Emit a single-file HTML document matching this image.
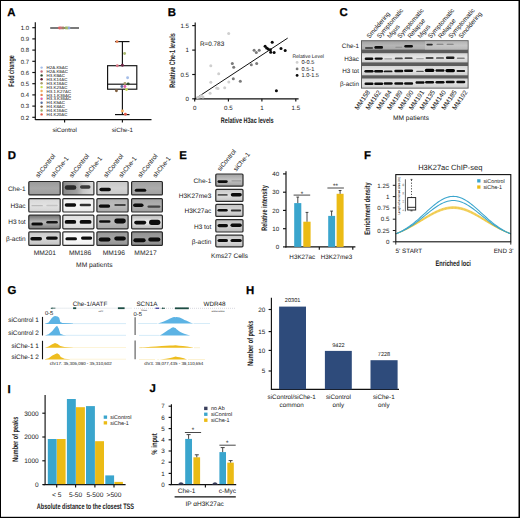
<!DOCTYPE html>
<html><head><meta charset="utf-8">
<style>
html,body{margin:0;padding:0;background:#fff;}
svg{display:block;}
text{text-rendering:geometricPrecision;font-family:"Liberation Sans",sans-serif;fill:#1a1a1a;stroke:#1a1a1a;stroke-width:0.02px;}
.lg text{stroke-width:0.4px;fill:#222;}
.cl{font-weight:bold;stroke-width:0px;fill:#222;}
.pl{font-weight:bold;font-size:11.4px;fill:#000;stroke:#000;stroke-width:0.25px;}
</style></head><body>
<svg width="520" height="518" viewBox="0 0 520 518">
<defs>
<filter id="bl" x="-50%" y="-100%" width="200%" height="300%"><feGaussianBlur stdDeviation="0.7"/></filter>
<filter id="bl2" x="-50%" y="-100%" width="200%" height="300%"><feGaussianBlur stdDeviation="1.1"/></filter>
<!-- BEGIN DEFS d -->
<linearGradient id="gD00" x1="0" y1="0" x2="0" y2="1"><stop offset="0" stop-color="#9a9a9a"/><stop offset="0.5" stop-color="#a8a8a8"/><stop offset="1" stop-color="#9c9c9c"/></linearGradient>
<linearGradient id="gD01" x1="0" y1="0" x2="0" y2="1"><stop offset="0" stop-color="#d8d8d8"/><stop offset="0.5" stop-color="#e2e2e2"/><stop offset="1" stop-color="#d4d4d4"/></linearGradient>
<linearGradient id="gD02" x1="0" y1="0" x2="0" y2="1"><stop offset="0" stop-color="#707070"/><stop offset="0.5" stop-color="#b8b8b8"/><stop offset="1" stop-color="#7a7a7a"/></linearGradient>
<linearGradient id="gD03" x1="0" y1="0" x2="0" y2="1"><stop offset="0" stop-color="#c8c8c8"/><stop offset="0.5" stop-color="#d8d8d8"/><stop offset="1" stop-color="#c4c4c4"/></linearGradient>
<linearGradient id="gD10" x1="0" y1="0" x2="0" y2="1"><stop offset="0" stop-color="#6a6a6a"/><stop offset="0.5" stop-color="#8a8a8a"/><stop offset="1" stop-color="#b0b0b0"/></linearGradient>
<linearGradient id="gD11" x1="0" y1="0" x2="0" y2="1"><stop offset="0" stop-color="#eeeeee"/><stop offset="0.5" stop-color="#f6f6f6"/><stop offset="1" stop-color="#eaeaea"/></linearGradient>
<linearGradient id="gD12" x1="0" y1="0" x2="0" y2="1"><stop offset="0" stop-color="#dcdcdc"/><stop offset="0.5" stop-color="#ececec"/><stop offset="1" stop-color="#d8d8d8"/></linearGradient>
<linearGradient id="gD13" x1="0" y1="0" x2="0" y2="1"><stop offset="0" stop-color="#f4f4f4"/><stop offset="0.5" stop-color="#fafafa"/><stop offset="1" stop-color="#f0f0f0"/></linearGradient>
<linearGradient id="gD20" x1="0" y1="0" x2="0" y2="1"><stop offset="0" stop-color="#c8c8c8"/><stop offset="0.5" stop-color="#d4d4d4"/><stop offset="1" stop-color="#c8c8c8"/></linearGradient>
<linearGradient id="gD21" x1="0" y1="0" x2="0" y2="1"><stop offset="0" stop-color="#b0b0b0"/><stop offset="0.5" stop-color="#bcbcbc"/><stop offset="1" stop-color="#acacac"/></linearGradient>
<linearGradient id="gD22" x1="0" y1="0" x2="0" y2="1"><stop offset="0" stop-color="#aaaaaa"/><stop offset="0.5" stop-color="#b8b8b8"/><stop offset="1" stop-color="#a8a8a8"/></linearGradient>
<linearGradient id="gD23" x1="0" y1="0" x2="0" y2="1"><stop offset="0" stop-color="#989898"/><stop offset="0.5" stop-color="#a4a4a4"/><stop offset="1" stop-color="#949494"/></linearGradient>
<linearGradient id="gD30" x1="0" y1="0" x2="0" y2="1"><stop offset="0" stop-color="#a0a0a0"/><stop offset="0.5" stop-color="#acacac"/><stop offset="1" stop-color="#a0a0a0"/></linearGradient>
<linearGradient id="gD31" x1="0" y1="0" x2="0" y2="1"><stop offset="0" stop-color="#a4a4a4"/><stop offset="0.5" stop-color="#b0b0b0"/><stop offset="1" stop-color="#a0a0a0"/></linearGradient>
<linearGradient id="gD32" x1="0" y1="0" x2="0" y2="1"><stop offset="0" stop-color="#b8b8b8"/><stop offset="0.5" stop-color="#eeeeee"/><stop offset="1" stop-color="#b4b4b4"/></linearGradient>
<linearGradient id="gD33" x1="0" y1="0" x2="0" y2="1"><stop offset="0" stop-color="#909090"/><stop offset="0.5" stop-color="#a0a0a0"/><stop offset="1" stop-color="#8c8c8c"/></linearGradient>
<linearGradient id="gD10h" x1="0" y1="0" x2="1" y2="0"><stop offset="0" stop-color="#8a8a8a"/><stop offset="0.45" stop-color="#a0a0a0"/><stop offset="0.65" stop-color="#c4c4c4"/><stop offset="1" stop-color="#dcdcdc"/></linearGradient>
<!-- END DEFS d -->
<!-- BEGIN DEFS e -->
<linearGradient id="gE0" x1="0" y1="0" x2="0" y2="1"><stop offset="0" stop-color="#a0a0a0"/><stop offset="0.5" stop-color="#c4c4c4"/><stop offset="1" stop-color="#a0a0a0"/></linearGradient>
<linearGradient id="gE1" x1="0" y1="0" x2="0" y2="1"><stop offset="0" stop-color="#c8c8c8"/><stop offset="0.5" stop-color="#dedede"/><stop offset="1" stop-color="#c4c4c4"/></linearGradient>
<linearGradient id="gE2" x1="0" y1="0" x2="0" y2="1"><stop offset="0" stop-color="#c4c4c4"/><stop offset="0.5" stop-color="#dadada"/><stop offset="1" stop-color="#c0c0c0"/></linearGradient>
<linearGradient id="gE3" x1="0" y1="0" x2="0" y2="1"><stop offset="0" stop-color="#bcbcbc"/><stop offset="0.5" stop-color="#d4d4d4"/><stop offset="1" stop-color="#b8b8b8"/></linearGradient>
<linearGradient id="gE4" x1="0" y1="0" x2="0" y2="1"><stop offset="0" stop-color="#c4c4c4"/><stop offset="0.5" stop-color="#dcdcdc"/><stop offset="1" stop-color="#c0c0c0"/></linearGradient>
<!-- END DEFS e -->
<!-- BEGIN DEFS c -->
<linearGradient id="gC1" x1="0" y1="0" x2="0" y2="1"><stop offset="0" stop-color="#a2a2a2"/><stop offset="0.5" stop-color="#b6b6b6"/><stop offset="1" stop-color="#aaaaaa"/></linearGradient>
<linearGradient id="gC1r" x1="0" y1="0" x2="0" y2="1"><stop offset="0" stop-color="#b8b8b8"/><stop offset="0.5" stop-color="#cacaca"/><stop offset="1" stop-color="#bcbcbc"/></linearGradient>
<linearGradient id="gC2" x1="0" y1="0" x2="0" y2="1"><stop offset="0" stop-color="#d4d4d4"/><stop offset="0.45" stop-color="#e6e6e6"/><stop offset="1" stop-color="#cdcdcd"/></linearGradient>
<!-- END DEFS c -->
</defs>
<rect x="0" y="0" width="520" height="518" fill="#fff"/>

<!-- ============ PANEL A ============ -->
<g id="A">
<text class="pl" x="7.3" y="16.1">A</text>
<g stroke="#111" stroke-width="1.15" fill="none">
<line x1="35.3" y1="22.2" x2="35.3" y2="120"/>
<line x1="35.3" y1="119.6" x2="151.5" y2="119.6"/>
<line x1="32.3" y1="27.7" x2="35.3" y2="27.7"/>
<line x1="32.3" y1="38.9" x2="35.3" y2="38.9"/>
<line x1="32.3" y1="50.1" x2="35.3" y2="50.1"/>
<line x1="32.3" y1="61.3" x2="35.3" y2="61.3"/>
<line x1="32.3" y1="72.5" x2="35.3" y2="72.5"/>
<line x1="32.3" y1="83.7" x2="35.3" y2="83.7"/>
<line x1="32.3" y1="94.9" x2="35.3" y2="94.9"/>
<line x1="32.3" y1="106.1" x2="35.3" y2="106.1"/>
<line x1="32.3" y1="117.3" x2="35.3" y2="117.3"/>
<line x1="64.6" y1="119.6" x2="64.6" y2="122.5"/>
<line x1="122.4" y1="119.6" x2="122.4" y2="122.5"/>
</g>
<g font-size="6" text-anchor="end" fill="#222">
<text x="29" y="29.9">1.0</text>
<text x="29" y="41.1">0.9</text>
<text x="29" y="52.3">0.8</text>
<text x="29" y="63.5">0.7</text>
<text x="29" y="74.7">0.6</text>
<text x="29" y="85.9">0.5</text>
<text x="29" y="97.1">0.4</text>
<text x="29" y="108.3">0.3</text>
<text x="29" y="119.5">0.2</text>
</g>
<text class="cl" transform="translate(13.5,71) rotate(-90) scale(0.671,1)" font-size="8.0" text-anchor="middle">Fold change</text>
<g font-size="6.2" text-anchor="middle">
<text x="64.6" y="131.5">siControl</text>
<text x="122.4" y="131.5">siChe-1</text>
</g>
<!-- siControl line -->
<line x1="50.2" y1="28" x2="79" y2="28" stroke="#222" stroke-width="1.2"/>
<g>
<circle cx="59.5" cy="28" r="1.45" fill="#e06060"/>
<circle cx="61" cy="28" r="1.4" fill="#c8707c"/>
<circle cx="63" cy="28" r="1.4" fill="#a08060"/>
<circle cx="66" cy="28" r="1.4" fill="#98b068"/>
<circle cx="67.5" cy="28" r="1.4" fill="#a8c060"/>
<circle cx="69" cy="28" r="1.4" fill="#90a8d8"/>
</g>
<!-- siChe-1 boxplot -->
<g stroke="#111" stroke-width="1.15" fill="none">
<line x1="115" y1="41.6" x2="129.5" y2="41.6"/>
<line x1="122.4" y1="41.6" x2="122.4" y2="65.7"/>
<rect x="107.6" y="65.7" width="29.2" height="23.5"/>
<line x1="107.6" y1="84.2" x2="136.8" y2="84.2"/>
<line x1="122.4" y1="89.2" x2="122.4" y2="114.6"/>
<line x1="115" y1="114.6" x2="129.5" y2="114.6"/>
</g>
<g>
<circle cx="117" cy="41.6" r="1.45" fill="#e88050"/>
<circle cx="124.6" cy="53.5" r="1.45" fill="#a8b870"/>
<circle cx="117.3" cy="65.7" r="1.45" fill="#d87888"/>
<circle cx="122.4" cy="65.3" r="1.45" fill="#6a2040"/>
<circle cx="127.6" cy="77.7" r="1.45" fill="#a4bde8"/>
<circle cx="124.9" cy="83.5" r="1.45" fill="#a8a070"/>
<circle cx="128.2" cy="83.9" r="1.45" fill="#2d4a2d"/>
<circle cx="121.9" cy="86.5" r="1.45" fill="#5870a0"/>
<circle cx="124.9" cy="86.5" r="1.45" fill="#e060a8"/>
<circle cx="126.5" cy="89.6" r="1.45" fill="#c8dc50"/>
<circle cx="116.4" cy="90.7" r="1.45" fill="#806040"/>
<circle cx="122.4" cy="111" r="1.45" fill="#f0b060"/>
<circle cx="125.4" cy="114.3" r="1.45" fill="#e05848"/>
</g>
<!-- legend -->
<g class="lg">
<circle cx="41.6" cy="67.6" r="1.2" fill="#a4bde8"/>
<circle cx="41.6" cy="71.5" r="1.2" fill="#c8707c"/>
<circle cx="41.6" cy="75.4" r="1.2" fill="#2d4a2d"/>
<circle cx="41.6" cy="79.3" r="1.2" fill="#5a1830"/>
<circle cx="41.6" cy="83.2" r="1.2" fill="#a8a070"/>
<circle cx="41.6" cy="87.1" r="1.2" fill="#c8dc50"/>
<circle cx="41.6" cy="91.0" r="1.2" fill="#f0b060"/>
<circle cx="41.6" cy="94.9" r="1.2" fill="#e88050"/>
<circle cx="41.6" cy="98.8" r="1.2" fill="#e060a8"/>
<circle cx="41.6" cy="102.7" r="1.2" fill="#5870a0"/>
<circle cx="41.6" cy="106.6" r="1.2" fill="#806040"/>
<circle cx="41.6" cy="110.5" r="1.2" fill="#98b068"/>
<circle cx="41.6" cy="114.4" r="1.2" fill="#e05848"/>
<g transform="scale(0.1)" font-size="44">
<text x="466" y="692">H2A.K5AC</text>
<text x="466" y="731">H2A.K9AC</text>
<text x="466" y="770">H3.K9AC</text>
<text x="466" y="809">H3.K14AC</text>
<text x="466" y="848">H3.K18AC</text>
<text x="466" y="887">H3.K23AC</text>
<text x="466" y="926">H3.1.K27AC</text>
<text x="466" y="965">H3.1.K36AC</text>
<text x="466" y="1004">H3.3.K36AC</text>
<text x="466" y="1043">H4.K5AC</text>
<text x="466" y="1082">H4.K8AC</text>
<text x="466" y="1121">H4.K16AC</text>
<text x="466" y="1160">H4.K20AC</text>
</g>
</g>
</g>

<!-- ============ PANEL B ============ -->
<g id="B">
<text class="pl" x="167.8" y="16">B</text>
<g stroke="#111" stroke-width="1.15" fill="none">
<line x1="195.2" y1="22.5" x2="195.2" y2="99.3"/>
<line x1="194.7" y1="98.8" x2="298.6" y2="98.8"/>
<line x1="192.2" y1="25.6" x2="195.2" y2="25.6"/>
<line x1="192.2" y1="50.1" x2="195.2" y2="50.1"/>
<line x1="192.2" y1="74.5" x2="195.2" y2="74.5"/>
<line x1="192.2" y1="98.8" x2="195.2" y2="98.8"/>
<line x1="194.7" y1="98.8" x2="194.7" y2="101.6"/>
<line x1="228.4" y1="98.8" x2="228.4" y2="101.6"/>
<line x1="261.9" y1="98.8" x2="261.9" y2="101.6"/>
<line x1="295.8" y1="98.8" x2="295.8" y2="101.6"/>
</g>
<g font-size="6.2" text-anchor="end" fill="#222">
<text x="189" y="27.8">1.5</text>
<text x="189" y="52.3">1</text>
<text x="189" y="76.7">0.5</text>
<text x="189" y="101">0</text>
</g>
<g font-size="6.2" text-anchor="middle" fill="#222">
<text x="194.7" y="110.2">0</text>
<text x="228.4" y="110.2">0.5</text>
<text x="261.9" y="110.2">1</text>
<text x="295.8" y="110.2">1.5</text>
</g>
<text x="199.9" y="46" font-size="6.4" fill="#333">R=0.783</text>
<text class="cl" transform="translate(247.2,123) scale(0.689,1)" font-size="8.0" text-anchor="middle">Relative H3ac levels</text>
<text class="cl" transform="translate(174.5,60.5) rotate(-90) scale(0.687,1)" font-size="8.0" text-anchor="middle">Relative Che-1 levels</text>
<line x1="195.2" y1="98.8" x2="287.7" y2="38.1" stroke="#111" stroke-width="1"/>
<g fill="#cfcfcf">
<circle cx="228.7" cy="33.6" r="1.5"/><circle cx="210.8" cy="65.8" r="1.5"/><circle cx="218.7" cy="73.8" r="1.5"/>
<circle cx="210.8" cy="82.2" r="1.5"/><circle cx="216.6" cy="88" r="1.5"/><circle cx="218" cy="88.4" r="1.5"/>
<circle cx="224.7" cy="87.7" r="1.5"/><circle cx="228.8" cy="81.9" r="1.5"/><circle cx="210.1" cy="93.3" r="1.5"/>
<circle cx="201.3" cy="95.8" r="1.5"/><circle cx="199.5" cy="96.9" r="1.5"/><circle cx="203" cy="96.9" r="1.5"/><circle cx="197.5" cy="97.5" r="1.5"/>
</g>
<g fill="#7a7a7a">
<circle cx="232.3" cy="63.4" r="1.5"/><circle cx="233.7" cy="67.2" r="1.5"/><circle cx="233.3" cy="78.7" r="1.5"/>
<circle cx="240.3" cy="81.3" r="1.5"/><circle cx="254.1" cy="50.3" r="1.5"/><circle cx="256.3" cy="52.6" r="1.5"/>
<circle cx="259.2" cy="50.3" r="1.5"/><circle cx="251.3" cy="64.7" r="1.5"/><circle cx="256.7" cy="63.6" r="1.5"/>
</g>
<g fill="#0a0a0a">
<circle cx="272.2" cy="42.3" r="1.5"/><circle cx="265.1" cy="46.3" r="1.5"/><circle cx="266.6" cy="47.9" r="1.5"/>
<circle cx="268.2" cy="49" r="1.5"/><circle cx="270.4" cy="49.8" r="1.5"/><circle cx="270.7" cy="52.3" r="1.5"/>
<circle cx="274.1" cy="52.6" r="1.5"/><circle cx="281" cy="48.6" r="1.5"/><circle cx="285.2" cy="50.4" r="1.5"/>
<circle cx="276.4" cy="90.8" r="1.5"/>
</g>
<text x="292.4" y="58.3" font-size="5" fill="#555">Relative Level</text>
<circle cx="297.1" cy="62.4" r="1.4" fill="#cfcfcf"/>
<circle cx="297.1" cy="68.9" r="1.4" fill="#7a7a7a"/>
<circle cx="297.1" cy="75.4" r="1.4" fill="#0a0a0a"/>
<g font-size="5.6" fill="#333">
<text x="301.5" y="64.4">0-0.5</text>
<text x="301.5" y="70.9">0.5-1</text>
<text x="301.5" y="77.4">1.0-1.5</text>
</g>
</g>

<!-- BEGIN d -->
<g id="D">
<text class="pl" x="7.8" y="158.8">D</text>
<rect x="28.8" y="181.5" width="31.4" height="13.4" rx="1" fill="url(#gD00)" stroke="#2a2a2a" stroke-width="1.2"/>
<rect x="28.8" y="198.6" width="31.4" height="13.4" rx="1" fill="url(#gD01)" stroke="#2a2a2a" stroke-width="1.2"/>
<rect x="28.8" y="215.2" width="31.4" height="13.6" rx="1" fill="url(#gD02)" stroke="#2a2a2a" stroke-width="1.2"/>
<rect x="28.8" y="231.79999999999998" width="31.4" height="13.6" rx="1" fill="url(#gD03)" stroke="#2a2a2a" stroke-width="1.2"/>
<rect x="62.800000000000004" y="181.5" width="31.1" height="13.4" rx="1" fill="url(#gD10h)" stroke="#2a2a2a" stroke-width="1.2"/>
<rect x="62.800000000000004" y="198.6" width="31.1" height="13.4" rx="1" fill="url(#gD11)" stroke="#2a2a2a" stroke-width="1.2"/>
<rect x="62.800000000000004" y="215.2" width="31.1" height="13.6" rx="1" fill="url(#gD12)" stroke="#2a2a2a" stroke-width="1.2"/>
<rect x="62.800000000000004" y="231.79999999999998" width="31.1" height="13.6" rx="1" fill="url(#gD13)" stroke="#2a2a2a" stroke-width="1.2"/>
<rect x="96.89999999999999" y="181.5" width="31.2" height="13.4" rx="1" fill="url(#gD20)" stroke="#2a2a2a" stroke-width="1.2"/>
<rect x="96.89999999999999" y="198.6" width="31.2" height="13.4" rx="1" fill="url(#gD21)" stroke="#2a2a2a" stroke-width="1.2"/>
<rect x="96.89999999999999" y="215.2" width="31.2" height="13.6" rx="1" fill="url(#gD22)" stroke="#2a2a2a" stroke-width="1.2"/>
<rect x="96.89999999999999" y="231.79999999999998" width="31.2" height="13.6" rx="1" fill="url(#gD23)" stroke="#2a2a2a" stroke-width="1.2"/>
<rect x="131.6" y="181.5" width="30.8" height="13.4" rx="1" fill="url(#gD30)" stroke="#2a2a2a" stroke-width="1.2"/>
<rect x="131.6" y="198.6" width="30.8" height="13.4" rx="1" fill="url(#gD31)" stroke="#2a2a2a" stroke-width="1.2"/>
<rect x="131.6" y="215.2" width="30.8" height="13.6" rx="1" fill="url(#gD32)" stroke="#2a2a2a" stroke-width="1.2"/>
<rect x="131.6" y="231.79999999999998" width="30.8" height="13.6" rx="1" fill="url(#gD33)" stroke="#2a2a2a" stroke-width="1.2"/>
<g filter="url(#bl)">
<rect x="31.4" y="205.05" width="11.5" height="1.30" rx="0.65" fill="#bbb"/>
<rect x="46.3" y="204.85" width="11.5" height="1.30" rx="0.65" fill="#c4c4c4"/>
<rect x="31.4" y="222.44" width="11.5" height="3.12" rx="1.56" fill="#111"/>
<rect x="46.3" y="220.90" width="11.5" height="2.60" rx="1.3" fill="#151515"/>
<rect x="30.3" y="237.11" width="11.7" height="3.38" rx="1.6900000000000002" fill="#111"/>
<rect x="46" y="236.41" width="11.8" height="3.38" rx="1.6900000000000002" fill="#111"/>
<rect x="64.8" y="185.29" width="11.5" height="4.42" rx="2.21" fill="#2a2a2a"/>
<rect x="80" y="185.31" width="10.5" height="3.38" rx="1.6900000000000002" fill="#3a3a3a"/>
<rect x="64.7" y="203.18" width="11.5" height="3.64" rx="1.8199999999999998" fill="#0a0a0a"/>
<rect x="79.6" y="203.70" width="11.4" height="2.60" rx="1.3" fill="#333"/>
<rect x="64.7" y="219.95" width="11.5" height="3.90" rx="1.9500000000000002" fill="#0a0a0a"/>
<rect x="79.6" y="219.95" width="11.9" height="3.90" rx="1.9500000000000002" fill="#0a0a0a"/>
<rect x="65.4" y="237.24" width="11.6" height="3.12" rx="1.56" fill="#111"/>
<rect x="81" y="236.54" width="11.2" height="3.12" rx="1.56" fill="#111"/>
<rect x="99.4" y="187.68" width="11.5" height="3.64" rx="1.8199999999999998" fill="#0a0a0a"/>
<rect x="98.7" y="204.41" width="11.5" height="3.38" rx="1.6900000000000002" fill="#0a0a0a"/>
<rect x="114.3" y="203.96" width="11.5" height="2.08" rx="1.04" fill="#444"/>
<rect x="99.1" y="220.20" width="11.4" height="2.60" rx="1.3" fill="#111"/>
<rect x="114.3" y="218.53" width="11.5" height="4.94" rx="2.4699999999999998" fill="#0a0a0a"/>
<rect x="98.7" y="237.42" width="11.8" height="4.16" rx="2.08" fill="#0a0a0a"/>
<rect x="114.3" y="236.42" width="11.5" height="4.16" rx="2.08" fill="#0a0a0a"/>
<rect x="134.8" y="188.64" width="11.4" height="3.12" rx="1.56" fill="#0a0a0a"/>
<rect x="133.1" y="203.48" width="10.4" height="3.64" rx="1.8199999999999998" fill="#0a0a0a"/>
<rect x="147.5" y="205.43" width="12.9" height="2.34" rx="1.1700000000000002" fill="#444"/>
<rect x="134.2" y="220.78" width="12.0" height="3.64" rx="1.8199999999999998" fill="#0a0a0a"/>
<rect x="149" y="219.70" width="11.4" height="5.20" rx="2.6" fill="#0a0a0a"/>
<rect x="133.4" y="238.25" width="12.2" height="3.90" rx="1.9500000000000002" fill="#0a0a0a"/>
<rect x="148.3" y="237.55" width="12.1" height="3.90" rx="1.9500000000000002" fill="#0a0a0a"/>
</g>
<g font-size="6.5" text-anchor="end">
<text x="25.6" y="190.5">Che-1</text>
<text x="25.6" y="207.6">H3ac</text>
<text x="25.6" y="224.3">H3 tot</text>
<text x="25.6" y="240.9">β-actin</text>
</g>
<g font-size="6.5">
<text transform="translate(38.4,178) rotate(-52)">shControl</text>
<text transform="translate(53.8,178) rotate(-52)">shChe-1</text>
<text transform="translate(72.2,178) rotate(-52)">shControl</text>
<text transform="translate(87.3,178) rotate(-52)">shChe-1</text>
<text transform="translate(106.4,178) rotate(-52)">shControl</text>
<text transform="translate(121.8,178) rotate(-52)">shChe-1</text>
<text transform="translate(140.8,178) rotate(-52)">shControl</text>
<text transform="translate(155.8,178) rotate(-52)">shChe-1</text>
</g>
<g font-size="6.7" text-anchor="middle">
<text x="44.8" y="255.2">MM201</text>
<text x="80.1" y="255.2">MM186</text>
<text x="113.8" y="255.2">MM196</text>
<text x="145.5" y="255.2">MM217</text>
</g>
<text x="94.3" y="267" font-size="6.7" text-anchor="middle">MM patients</text>
</g>
<!-- END d -->
<!-- BEGIN e -->
<g id="E">
<text class="pl" x="179.3" y="159">E</text>
<rect x="215.79999999999998" y="174.0" width="27.2" height="12.2" rx="1" fill="url(#gE0)" stroke="#2a2a2a" stroke-width="1.2"/>
<rect x="215.79999999999998" y="189.4" width="27.2" height="12.0" rx="1" fill="url(#gE1)" stroke="#2a2a2a" stroke-width="1.2"/>
<rect x="215.79999999999998" y="204.4" width="27.2" height="12.0" rx="1" fill="url(#gE2)" stroke="#2a2a2a" stroke-width="1.2"/>
<rect x="215.79999999999998" y="219.6" width="27.2" height="12.4" rx="1" fill="url(#gE3)" stroke="#2a2a2a" stroke-width="1.2"/>
<rect x="215.79999999999998" y="235.2" width="27.2" height="11.6" rx="1" fill="url(#gE4)" stroke="#2a2a2a" stroke-width="1.2"/>
<g filter="url(#bl)">
<rect x="217.5" y="180.30" width="10.2" height="2.60" rx="1.3" fill="#0a0a0a"/>
<rect x="231.4" y="180.20" width="10.1" height="1.20" rx="0.6" fill="#999"/>
<rect x="217.5" y="194.00" width="10.2" height="1.80" rx="0.9" fill="#555"/>
<rect x="230.8" y="193.00" width="11.0" height="3.40" rx="1.7" fill="#0a0a0a"/>
<rect x="217.5" y="209.00" width="10.2" height="2.60" rx="1.3" fill="#0a0a0a"/>
<rect x="230.8" y="209.50" width="10.4" height="2.00" rx="1.0" fill="#333"/>
<rect x="217.5" y="224.00" width="10.5" height="3.20" rx="1.6" fill="#0a0a0a"/>
<rect x="230.5" y="223.60" width="11.3" height="3.40" rx="1.7" fill="#0a0a0a"/>
<rect x="217.5" y="238.90" width="10.5" height="3.20" rx="1.6" fill="#0a0a0a"/>
<rect x="230.5" y="238.90" width="11.3" height="3.20" rx="1.6" fill="#0a0a0a"/>
</g>
<g font-size="6.5" text-anchor="end">
<text x="211.3" y="183.1">Che-1</text>
<text x="211.3" y="198.4">H3K27me3</text>
<text x="211.3" y="213.4">H3K27ac</text>
<text x="211.3" y="228.8">H3 tot</text>
<text x="211.3" y="244.0">β-actin</text>
</g>
<g font-size="6.5">
<text transform="translate(220.2,171.5) rotate(-51)">siControl</text>
<text transform="translate(236.2,171.8) rotate(-51)">siChe-1</text>
</g>
<text x="229.6" y="257.6" font-size="6.6" text-anchor="middle">Kms27 Cells</text>
<g stroke="#111" stroke-width="1.15" fill="none">
<line x1="286" y1="171.2" x2="286" y2="247.4"/>
<line x1="285.5" y1="246.9" x2="355.4" y2="246.9"/>
<line x1="283" y1="246.9" x2="286" y2="246.9"/>
<line x1="283" y1="228.7" x2="286" y2="228.7"/>
<line x1="283" y1="210.4" x2="286" y2="210.4"/>
<line x1="283" y1="192.2" x2="286" y2="192.2"/>
<line x1="283" y1="173.9" x2="286" y2="173.9"/>
<line x1="319.3" y1="246.9" x2="319.3" y2="249.8"/>
<line x1="352.8" y1="246.9" x2="352.8" y2="249.8"/>
</g>
<g font-size="6.2" text-anchor="end">
<text x="279.2" y="249.1">0</text>
<text x="279.2" y="230.8">10</text>
<text x="279.2" y="212.6">20</text>
<text x="279.2" y="194.3">30</text>
<text x="279.2" y="176.1">40</text>
</g>
<rect x="294.2" y="203.1" width="7.1" height="43.8" fill="#3aa5cd"/>
<line x1="297.8" y1="203.1" x2="297.8" y2="197.1" stroke="#333" stroke-width="0.9"/>
<line x1="296.4" y1="197.1" x2="299.1" y2="197.1" stroke="#333" stroke-width="0.9"/>
<rect x="303.3" y="221.7" width="7.3" height="25.2" fill="#ebbb15"/>
<line x1="307.0" y1="221.7" x2="307.0" y2="212.4" stroke="#333" stroke-width="0.9"/>
<line x1="305.6" y1="212.4" x2="308.4" y2="212.4" stroke="#333" stroke-width="0.9"/>
<rect x="328.2" y="215.9" width="6.9" height="31.0" fill="#3aa5cd"/>
<line x1="331.6" y1="215.9" x2="331.6" y2="211.1" stroke="#333" stroke-width="0.9"/>
<line x1="330.2" y1="211.1" x2="333.0" y2="211.1" stroke="#333" stroke-width="0.9"/>
<rect x="336.6" y="193.8" width="7.0" height="53.1" fill="#ebbb15"/>
<line x1="340.1" y1="193.8" x2="340.1" y2="190.5" stroke="#333" stroke-width="0.9"/>
<line x1="338.7" y1="190.5" x2="341.5" y2="190.5" stroke="#333" stroke-width="0.9"/>
<line x1="293.6" y1="195.1" x2="310.2" y2="195.1" stroke="#333" stroke-width="0.9"/>
<line x1="327.4" y1="188" x2="343.9" y2="188" stroke="#333" stroke-width="0.9"/>
<text x="301.9" y="196.3" font-size="6.5" text-anchor="middle">*</text>
<text x="335.6" y="188" font-size="6.5" text-anchor="middle">**</text>
<g font-size="6.3" text-anchor="middle">
<text x="302.3" y="258.8">H3K27ac</text>
<text x="336.4" y="258.8">H3K27me3</text>
</g>
<text class="cl" transform="translate(266.6,208) rotate(-90) scale(0.690,1)" font-size="8.0" text-anchor="middle">Relative intensity</text>
</g>
<!-- END e -->
<!-- BEGIN f -->
<g id="F">
<text class="pl" x="363.9" y="158.6">F</text>
<text x="450.3" y="170.3" font-size="7.5" text-anchor="middle">H3K27ac ChIP-seq</text>
<path d="M395.80,233.80 L397.24,233.20 L398.68,232.57 L400.11,231.91 L401.55,231.22 L402.99,230.50 L404.43,229.76 L405.86,228.99 L407.30,228.20 L408.74,227.38 L410.18,226.55 L411.61,225.69 L413.05,224.82 L414.49,223.94 L415.93,223.04 L417.36,222.14 L418.80,221.22 L420.24,220.31 L421.68,219.40 L423.11,218.49 L424.55,217.58 L425.99,216.69 L427.43,215.82 L428.86,214.96 L430.30,214.13 L431.74,213.32 L433.18,212.55 L434.61,211.81 L436.05,211.11 L437.49,210.44 L438.93,209.83 L440.36,209.26 L441.80,208.74 L443.24,208.28 L444.68,207.88 L446.11,207.53 L447.55,207.24 L448.99,207.02 L450.43,206.85 L451.86,206.76 L453.30,206.72 L454.74,206.76 L456.18,206.85 L457.61,207.02 L459.05,207.24 L460.49,207.53 L461.93,207.88 L463.36,208.28 L464.80,208.74 L466.24,209.26 L467.68,209.83 L469.11,210.44 L470.55,211.11 L471.99,211.81 L473.43,212.55 L474.86,213.32 L476.30,214.13 L477.74,214.96 L479.18,215.82 L480.61,216.69 L482.05,217.58 L483.49,218.49 L484.93,219.40 L486.36,220.31 L487.80,221.22 L489.24,222.14 L490.68,223.04 L492.11,223.94 L493.55,224.82 L494.99,225.69 L496.43,226.55 L497.86,227.38 L499.30,228.20 L500.74,228.99 L502.18,229.76 L503.61,230.50 L505.05,231.22 L506.49,231.91 L507.93,232.57 L509.36,233.20 L510.80,233.80" fill="none" stroke="#ebbb15" stroke-width="0.65" opacity="0.95"/>
<path d="M395.80,233.80 L397.24,233.23 L398.68,232.64 L400.11,232.01 L401.55,231.36 L402.99,230.67 L404.43,229.96 L405.86,229.23 L407.30,228.47 L408.74,227.68 L410.18,226.88 L411.61,226.05 L413.05,225.20 L414.49,224.34 L415.93,223.47 L417.36,222.58 L418.80,221.69 L420.24,220.79 L421.68,219.90 L423.11,219.00 L424.55,218.11 L425.99,217.23 L427.43,216.37 L428.86,215.52 L430.30,214.70 L431.74,213.90 L433.18,213.13 L434.61,212.39 L436.05,211.69 L437.49,211.03 L438.93,210.42 L440.36,209.85 L441.80,209.33 L443.24,208.87 L444.68,208.46 L446.11,208.12 L447.55,207.83 L448.99,207.60 L450.43,207.44 L451.86,207.34 L453.30,207.31 L454.74,207.34 L456.18,207.44 L457.61,207.60 L459.05,207.83 L460.49,208.12 L461.93,208.46 L463.36,208.87 L464.80,209.33 L466.24,209.85 L467.68,210.42 L469.11,211.03 L470.55,211.69 L471.99,212.39 L473.43,213.13 L474.86,213.90 L476.30,214.70 L477.74,215.52 L479.18,216.37 L480.61,217.23 L482.05,218.11 L483.49,219.00 L484.93,219.90 L486.36,220.79 L487.80,221.69 L489.24,222.58 L490.68,223.47 L492.11,224.34 L493.55,225.20 L494.99,226.05 L496.43,226.88 L497.86,227.68 L499.30,228.47 L500.74,229.23 L502.18,229.96 L503.61,230.67 L505.05,231.36 L506.49,232.01 L507.93,232.64 L509.36,233.23 L510.80,233.80" fill="none" stroke="#ebbb15" stroke-width="0.65" opacity="0.95"/>
<path d="M395.80,233.80 L397.24,233.27 L398.68,232.70 L400.11,232.11 L401.55,231.49 L402.99,230.84 L404.43,230.17 L405.86,229.46 L407.30,228.73 L408.74,227.98 L410.18,227.20 L411.61,226.40 L413.05,225.58 L414.49,224.75 L415.93,223.90 L417.36,223.03 L418.80,222.16 L420.24,221.28 L421.68,220.40 L423.11,219.52 L424.55,218.65 L425.99,217.78 L427.43,216.92 L428.86,216.09 L430.30,215.27 L431.74,214.47 L433.18,213.71 L434.61,212.97 L436.05,212.28 L437.49,211.62 L438.93,211.01 L440.36,210.44 L441.80,209.92 L443.24,209.46 L444.68,209.05 L446.11,208.71 L447.55,208.42 L448.99,208.19 L450.43,208.03 L451.86,207.93 L453.30,207.90 L454.74,207.93 L456.18,208.03 L457.61,208.19 L459.05,208.42 L460.49,208.71 L461.93,209.05 L463.36,209.46 L464.80,209.92 L466.24,210.44 L467.68,211.01 L469.11,211.62 L470.55,212.28 L471.99,212.97 L473.43,213.71 L474.86,214.47 L476.30,215.27 L477.74,216.09 L479.18,216.92 L480.61,217.78 L482.05,218.65 L483.49,219.52 L484.93,220.40 L486.36,221.28 L487.80,222.16 L489.24,223.03 L490.68,223.90 L492.11,224.75 L493.55,225.58 L494.99,226.40 L496.43,227.20 L497.86,227.98 L499.30,228.73 L500.74,229.46 L502.18,230.17 L503.61,230.84 L505.05,231.49 L506.49,232.11 L507.93,232.70 L509.36,233.27 L510.80,233.80" fill="none" stroke="#ebbb15" stroke-width="0.65" opacity="0.95"/>
<path d="M395.80,233.80 L397.24,233.30 L398.68,232.77 L400.11,232.22 L401.55,231.63 L402.99,231.02 L404.43,230.37 L405.86,229.70 L407.30,229.00 L408.74,228.28 L410.18,227.53 L411.61,226.76 L413.05,225.97 L414.49,225.15 L415.93,224.33 L417.36,223.49 L418.80,222.63 L420.24,221.77 L421.68,220.91 L423.11,220.04 L424.55,219.18 L425.99,218.33 L427.43,217.48 L428.86,216.65 L430.30,215.84 L431.74,215.05 L433.18,214.29 L434.61,213.56 L436.05,212.87 L437.49,212.21 L438.93,211.60 L440.36,211.03 L441.80,210.52 L443.24,210.05 L444.68,209.65 L446.11,209.30 L447.55,209.01 L448.99,208.78 L450.43,208.62 L451.86,208.52 L453.30,208.49 L454.74,208.52 L456.18,208.62 L457.61,208.78 L459.05,209.01 L460.49,209.30 L461.93,209.65 L463.36,210.05 L464.80,210.52 L466.24,211.03 L467.68,211.60 L469.11,212.21 L470.55,212.87 L471.99,213.56 L473.43,214.29 L474.86,215.05 L476.30,215.84 L477.74,216.65 L479.18,217.48 L480.61,218.33 L482.05,219.18 L483.49,220.04 L484.93,220.91 L486.36,221.77 L487.80,222.63 L489.24,223.49 L490.68,224.33 L492.11,225.15 L493.55,225.97 L494.99,226.76 L496.43,227.53 L497.86,228.28 L499.30,229.00 L500.74,229.70 L502.18,230.37 L503.61,231.02 L505.05,231.63 L506.49,232.22 L507.93,232.77 L509.36,233.30 L510.80,233.80" fill="none" stroke="#ebbb15" stroke-width="0.65" opacity="0.95"/>
<path d="M395.80,233.80 L397.24,233.21 L398.68,232.58 L400.11,231.89 L401.55,231.16 L402.99,230.39 L404.43,229.56 L405.86,228.68 L407.30,227.76 L408.74,226.79 L410.18,225.77 L411.61,224.70 L413.05,223.59 L414.49,222.45 L415.93,221.26 L417.36,220.04 L418.80,218.79 L420.24,217.51 L421.68,216.22 L423.11,214.91 L424.55,213.59 L425.99,212.28 L427.43,210.96 L428.86,209.66 L430.30,208.38 L431.74,207.13 L433.18,205.91 L434.61,204.73 L436.05,203.61 L437.49,202.54 L438.93,201.54 L440.36,200.61 L441.80,199.75 L443.24,198.99 L444.68,198.31 L446.11,197.73 L447.55,197.25 L448.99,196.87 L450.43,196.59 L451.86,196.43 L453.30,196.37 L454.74,196.43 L456.18,196.59 L457.61,196.87 L459.05,197.25 L460.49,197.73 L461.93,198.31 L463.36,198.99 L464.80,199.75 L466.24,200.61 L467.68,201.54 L469.11,202.54 L470.55,203.61 L471.99,204.73 L473.43,205.91 L474.86,207.13 L476.30,208.38 L477.74,209.66 L479.18,210.96 L480.61,212.28 L482.05,213.59 L483.49,214.91 L484.93,216.22 L486.36,217.51 L487.80,218.79 L489.24,220.04 L490.68,221.26 L492.11,222.45 L493.55,223.59 L494.99,224.70 L496.43,225.77 L497.86,226.79 L499.30,227.76 L500.74,228.68 L502.18,229.56 L503.61,230.39 L505.05,231.16 L506.49,231.89 L507.93,232.58 L509.36,233.21 L510.80,233.80" fill="none" stroke="#3aa5cd" stroke-width="1.05"/>
<path d="M395.80,233.80 L397.24,233.28 L398.68,232.71 L400.11,232.11 L401.55,231.46 L402.99,230.77 L404.43,230.03 L405.86,229.25 L407.30,228.43 L408.74,227.57 L410.18,226.66 L411.61,225.71 L413.05,224.73 L414.49,223.71 L415.93,222.65 L417.36,221.57 L418.80,220.46 L420.24,219.32 L421.68,218.17 L423.11,217.01 L424.55,215.84 L425.99,214.67 L427.43,213.50 L428.86,212.35 L430.30,211.21 L431.74,210.09 L433.18,209.01 L434.61,207.96 L436.05,206.96 L437.49,206.01 L438.93,205.12 L440.36,204.30 L441.80,203.54 L443.24,202.86 L444.68,202.25 L446.11,201.74 L447.55,201.31 L448.99,200.97 L450.43,200.73 L451.86,200.58 L453.30,200.53 L454.74,200.58 L456.18,200.73 L457.61,200.97 L459.05,201.31 L460.49,201.74 L461.93,202.25 L463.36,202.86 L464.80,203.54 L466.24,204.30 L467.68,205.12 L469.11,206.01 L470.55,206.96 L471.99,207.96 L473.43,209.01 L474.86,210.09 L476.30,211.21 L477.74,212.35 L479.18,213.50 L480.61,214.67 L482.05,215.84 L483.49,217.01 L484.93,218.17 L486.36,219.32 L487.80,220.46 L489.24,221.57 L490.68,222.65 L492.11,223.71 L493.55,224.73 L494.99,225.71 L496.43,226.66 L497.86,227.57 L499.30,228.43 L500.74,229.25 L502.18,230.03 L503.61,230.77 L505.05,231.46 L506.49,232.11 L507.93,232.71 L509.36,233.28 L510.80,233.80" fill="none" stroke="#3aa5cd" stroke-width="1.05"/>
<rect x="395.8" y="174.6" width="115.0" height="67.20000000000002" fill="none" stroke="#111" stroke-width="1.1"/>
<g stroke="#222" stroke-width="1">
<line x1="392.8" y1="241.8" x2="395.8" y2="241.8"/>
<line x1="392.8" y1="230.5" x2="395.8" y2="230.5"/>
<line x1="392.8" y1="219.2" x2="395.8" y2="219.2"/>
<line x1="392.8" y1="207.9" x2="395.8" y2="207.9"/>
<line x1="392.8" y1="196.6" x2="395.8" y2="196.6"/>
<line x1="392.8" y1="185.3" x2="395.8" y2="185.3"/>
<line x1="395.8" y1="241.8" x2="395.8" y2="244.60000000000002"/>
<line x1="510.8" y1="241.8" x2="510.8" y2="244.60000000000002"/>
</g>
<g font-size="6.2" text-anchor="end">
<text x="389.4" y="244.0">0</text>
<text x="389.4" y="232.7">0.25</text>
<text x="389.4" y="221.4">0.5</text>
<text x="389.4" y="210.1">0.75</text>
<text x="389.4" y="198.8">1</text>
<text x="389.4" y="187.5">1.25</text>
</g>
<text x="395.6" y="253.3" font-size="6.3">5' START</text>
<text x="513.4" y="253.3" font-size="6.3" text-anchor="end">END 3'</text>
<text class="cl" transform="translate(453.2,265.8) scale(0.703,1)" font-size="8.0" text-anchor="middle">Enriched loci</text>
<text class="cl" transform="translate(370.4,208.6) rotate(-90) scale(0.705,1)" font-size="8.0" text-anchor="middle">Enrichment density</text>
<rect x="477.2" y="179.2" width="3.3" height="3.3" fill="#3aa5cd"/>
<rect x="477.2" y="185.4" width="3.3" height="3.3" fill="#ebbb15"/>
<g font-size="5.4"><text x="483.4" y="182.9">siControl</text><text x="483.4" y="189.1">siChe-1</text></g>
<text transform="translate(399.8,195.7) rotate(-90)" font-size="3.0" text-anchor="middle" fill="#111" style="stroke-width:0.05px">Length of enriched sites (kb)</text>
<line x1="405.4" y1="179.3" x2="405.4" y2="211.3" stroke="#222" stroke-width="0.7"/>
<g font-size="2.2" text-anchor="middle" fill="#555">
<text transform="translate(403.8,185) rotate(-90)">30</text>
<text transform="translate(403.8,193.2) rotate(-90)">20</text>
<text transform="translate(403.8,201.6) rotate(-90)">10</text>
<text transform="translate(403.8,210.4) rotate(-90)">0</text>
</g>
<line x1="411.5" y1="179.8" x2="411.5" y2="197.5" stroke="#222" stroke-width="0.8" stroke-dasharray="1.2,1.6"/>
<line x1="410.6" y1="179.4" x2="412.4" y2="179.4" stroke="#222" stroke-width="0.8"/>
<rect x="407.7" y="197.6" width="8" height="12.4" fill="none" stroke="#111" stroke-width="0.9"/>
<line x1="407.7" y1="207.3" x2="415.7" y2="207.3" stroke="#111" stroke-width="0.9"/>
<line x1="410.5" y1="210.8" x2="412.5" y2="210.8" stroke="#111" stroke-width="0.8"/>
</g>
<!-- END f -->
<!-- BEGIN g -->
<g id="G">
<text class="pl" x="7.5" y="294.1">G</text>
<g font-size="6.3" text-anchor="middle">
<text x="90" y="306">Che-1/AATF</text><text x="146.9" y="306">SCN1A</text><text x="214.6" y="306">WDR48</text>
</g>
<line x1="50.6" y1="308.2" x2="132" y2="308.2" stroke="#9ab" stroke-width="0.6" stroke-dasharray="0.8,1.2"/>
<line x1="134" y1="308.3" x2="235.5" y2="308.3" stroke="#aab" stroke-width="0.6" stroke-dasharray="0.8,1.2"/>
<path d="M50.6,308.2 L52.3,307.2 L52.3,307.8 L55.4,307.8 L55.4,308.6 L52.3,308.6 L52.3,309.2 Z" fill="#1d4d44"/>
<rect x="73.1" y="307.3" width="3.1" height="1.8" fill="#1d4d44"/>
<rect x="117.9" y="307.3" width="6.7" height="1.8" fill="#1d4d44"/>
<rect x="155.4" y="307.6" width="3.8" height="1.3" fill="#3c3c9c"/>
<path d="M161.3,308.3 L163,307.3 L163,307.8 L164.9,307.8 L164.9,308.8 L163,308.8 L163,309.3 Z" fill="#1d4d44"/>
<rect x="175" y="307.4" width="13.8" height="1.8" fill="#1d4d44"/>
<g font-size="1.8" fill="#777"><text x="98.6" y="311.6">AATF</text><text x="141" y="311.3">SCN1A</text><text x="211.5" y="311.6">WDR48 WDR48</text></g>
<g font-size="5.8"><text x="44.9" y="315.3">0-5</text><text x="133.6" y="315.6">0-5</text></g>
<g font-size="6.4" text-anchor="end">
<text x="38.8" y="322.3">siControl 1</text>
<text x="38.8" y="334.6">siControl 2</text>
<text x="38.8" y="347.7">siChe-1 1</text>
<text x="38.8" y="359.3">siChe-1 2</text>
</g>
<g stroke="#111" stroke-width="1.1"><line x1="42.5" y1="316.9" x2="42.5" y2="335.5"/><line x1="42.5" y1="340.8" x2="42.5" y2="359.3"/></g>
<g stroke="#555" stroke-width="1.1"><line x1="135.1" y1="317.2" x2="135.1" y2="335"/><line x1="135.1" y1="340.6" x2="135.1" y2="359.3"/></g>
<path d="M44.9,323.8 L48.6,322.4 L51.8,318 L53.6,316.4 L55,316.1 L57.6,316.5 L59.2,317.8 L60.3,322 L62.4,322.9 L69.8,323.3 L73,323.6 L73,323.9 L44.9,323.9 Z" fill="#5cb3e4"/>
<path d="M44.9,335.5 L48.6,334.3 L52.3,331.1 L55.5,327 L57.1,325.8 L58.7,328.4 L60.3,333.8 L63.5,334.9 L66,335.3 L66,335.6 L44.9,335.6 Z" fill="#5cb3e4"/>
<path d="M44.9,347.7 L48.6,346.5 L51.8,344.5 L55,343.1 L57.6,343.9 L60.3,346 L64.5,347 L73,347.5 L73,347.8 L44.9,347.8 Z" fill="#eebd1e"/>
<path d="M44.9,359.3 L48.6,358.2 L52.3,355.6 L57.1,353.2 L59.2,354.5 L60.8,357.1 L64.5,358.7 L70,359.2 L70,359.4 L44.9,359.4 Z" fill="#eebd1e"/>
<g stroke="#5cb3e4" stroke-width="0.5" opacity="0.5"><line x1="73" y1="323.6" x2="126" y2="323.6"/><line x1="66" y1="335.3" x2="126" y2="335.3"/></g>
<g stroke="#eebd1e" stroke-width="0.5" opacity="0.35"><line x1="73" y1="347.5" x2="126" y2="347.5"/><line x1="70" y1="359.2" x2="126" y2="359.2"/></g>
<path d="M157.5,323.5 L158.6,323.2 L161,322.6 L163.8,321.5 L166,320.6 L168.1,319.5 L170,318.6 L171.3,318 L173,317.3 L174.4,316.9 L175.5,317.2 L176.5,316.9 L178,317.3 L179.7,317.5 L181.3,318.3 L182.9,319 L184.5,319.9 L186.1,320.6 L187.7,321.2 L189.2,322 L190.8,322.7 L192.4,323.2 L193.5,323.5 L193.5,323.6 L157.5,323.6 Z" fill="#5cb3e4"/>
<path d="M159.6,335.5 L161.5,334.6 L163.8,332.9 L166,331.5 L168.1,330.1 L170,328.9 L171.3,328.1 L172.4,327.6 L173.4,327.3 L174.5,327.7 L175.5,328.1 L176.6,329.2 L177.6,330.1 L179.2,331.2 L180.8,332.2 L183,333.2 L185,334 L187.5,334.8 L190.3,335.5 L190.3,335.5 L159.6,335.5 Z" fill="#5cb3e4"/>
<path d="M139.5,347.6 L145,347.2 L151.2,346.7 L156,346.4 L161.7,346 L166,345.7 L170.2,345.4 L173,345.5 L175.5,345.3 L179,345.7 L182.9,346.1 L187,346.6 L191.3,347.2 L193,347.6 L193,347.8 L139.5,347.8 Z" fill="#eebd1e"/>
<path d="M157.5,359.7 L162,359.3 L166,358.8 L169,358.3 L172.3,357.6 L174,357 L175.5,356.6 L177.5,356.9 L179.7,357.2 L181.8,357.8 L183.9,358.3 L185.6,359 L187.1,359.6 L187.1,359.6 L157.5,359.6 Z" fill="#eebd1e"/>
<g stroke="#5cb3e4" stroke-width="0.5" opacity="0.5"><line x1="138.2" y1="323.5" x2="157.4" y2="323.5"/><line x1="193.5" y1="323.5" x2="210" y2="323.5"/><line x1="139" y1="335.4" x2="159.7" y2="335.4"/></g>
<g stroke="#eebd1e" stroke-width="0.5" opacity="0.4"><line x1="139" y1="347.7" x2="142" y2="347.7"/><line x1="194" y1="347.7" x2="200" y2="347.7"/><line x1="139" y1="359.5" x2="155" y2="359.5"/><line x1="188" y1="359.5" x2="205" y2="359.5"/></g>
<g font-size="4.45" fill="#333" text-anchor="middle"><text x="80.8" y="364.9">chr17: 35,306,090 - 35,310,602</text><text x="173.7" y="365.4">chr3: 39,077,435 - 39,110,654</text></g>
</g>
<!-- END g -->
<!-- BEGIN h -->
<g id="H">
<text class="pl" x="245.9" y="293.9">H</text>
<g stroke="#111" stroke-width="1.15" fill="none">
<line x1="271.4" y1="297.8" x2="271.4" y2="389.8"/>
<line x1="270.9" y1="389.3" x2="399" y2="389.3"/>
<line x1="268.6" y1="309.5" x2="271.4" y2="309.5"/>
<line x1="268.6" y1="331.6" x2="271.4" y2="331.6"/>
<line x1="268.6" y1="350.4" x2="271.4" y2="350.4"/>
<line x1="268.6" y1="371" x2="271.4" y2="371"/>
</g>
<g font-size="6.3" text-anchor="end">
<text x="265.2" y="311.7">20</text>
<text x="265.2" y="333.8">15</text>
<text x="265.2" y="352.6">10</text>
<text x="265.2" y="373.2">5</text>
</g>
<rect x="279.1" y="306.6" width="26.9" height="82.7" fill="#2e4b7b"/>
<rect x="324.9" y="350.9" width="26.9" height="38.4" fill="#2e4b7b"/>
<rect x="370.5" y="360.2" width="27.1" height="29.1" fill="#2e4b7b"/>
<g font-size="5.6" text-anchor="middle" fill="#222">
<text x="292.6" y="302">20301</text><text x="338.4" y="346.5">9422</text><text x="384" y="356">7228</text>
</g>
<g font-size="6.3" text-anchor="middle">
<text x="291.7" y="398.6">siControl/siChe-1</text><text x="291.7" y="407.1">common</text>
<text x="338.4" y="398.6">siControl</text><text x="338.4" y="407.1">only</text>
<text x="383.8" y="398.6">siChe-1</text><text x="383.8" y="407.1">only</text>
</g>
<text class="cl" transform="translate(252.9,343.2) rotate(-90) scale(0.693,1)" font-size="8.0" text-anchor="middle">Number of peaks</text>
</g>
<!-- END h -->
<!-- BEGIN ij -->
<g id="I">
<text class="pl" x="7.6" y="392.8">I</text>
<g stroke="#111" stroke-width="1.15" fill="none">
<line x1="45.1" y1="395" x2="45.1" y2="485.1"/>
<line x1="43.3" y1="484.6" x2="125.6" y2="484.6"/>
<line x1="42.3" y1="484.6" x2="45.1" y2="484.6"/>
<line x1="42.3" y1="460.8" x2="45.1" y2="460.8"/>
<line x1="42.3" y1="437.0" x2="45.1" y2="437.0"/>
<line x1="42.3" y1="413.2" x2="45.1" y2="413.2"/>
<line x1="56.7" y1="484.6" x2="56.7" y2="487.4"/>
<line x1="75.6" y1="484.6" x2="75.6" y2="487.4"/>
<line x1="94.9" y1="484.6" x2="94.9" y2="487.4"/>
<line x1="114" y1="484.6" x2="114" y2="487.4"/>
</g>
<rect x="47.8" y="439.0" width="8.9" height="45.1" fill="#3aa5cd"/>
<rect x="56.9" y="439.0" width="8.7" height="45.1" fill="#ebbb15"/>
<rect x="66.9" y="399.0" width="8.9" height="85.1" fill="#3aa5cd"/>
<rect x="76" y="407.2" width="8.9" height="76.9" fill="#ebbb15"/>
<rect x="86" y="406.1" width="8.9" height="78.0" fill="#3aa5cd"/>
<rect x="95.1" y="441.2" width="8.9" height="42.9" fill="#ebbb15"/>
<rect x="105.3" y="475.4" width="8.8" height="8.7" fill="#3aa5cd"/>
<rect x="114.4" y="481.9" width="8.5" height="2.2" fill="#ebbb15"/>
<g font-size="6.5" text-anchor="end">
<text x="38.7" y="486.9">0</text>
<text x="38.7" y="463.1">1000</text>
<text x="38.7" y="439.3">2000</text>
<text x="38.7" y="415.5">3000</text>
</g>
<g font-size="6.6" text-anchor="middle">
<text x="56.7" y="496.7">&lt; 5</text>
<text x="75.6" y="496.7">5-50</text>
<text x="94.9" y="496.7">5-500</text>
<text x="114" y="496.7">&gt;500</text>
</g>
<rect x="103.7" y="415.5" width="3.4" height="3.3" fill="#3aa5cd"/><rect x="103.7" y="421.2" width="3.4" height="3.3" fill="#ebbb15"/>
<g font-size="5.4"><text x="110.2" y="418.9">siControl</text><text x="110.2" y="424.5">siChe-1</text></g>
<text class="cl" transform="translate(85.4,508.6) scale(0.691,1)" font-size="8.0" text-anchor="middle">Absolute distance to the closest TSS</text>
<text class="cl" transform="translate(17.8,439.2) rotate(-90) scale(0.693,1)" font-size="8.0" text-anchor="middle">Number of peaks</text>
</g>
<g id="J">
<text class="pl" x="149.6" y="392.2">J</text>
<g stroke="#111" stroke-width="1.15" fill="none">
<line x1="171.4" y1="404.2" x2="171.4" y2="485.1"/>
<line x1="170" y1="484.6" x2="236.2" y2="484.6"/>
<line x1="168.6" y1="484.6" x2="171.4" y2="484.6"/>
<line x1="168.6" y1="473.4" x2="171.4" y2="473.4"/>
<line x1="168.6" y1="462.2" x2="171.4" y2="462.2"/>
<line x1="168.6" y1="451.0" x2="171.4" y2="451.0"/>
<line x1="168.6" y1="439.8" x2="171.4" y2="439.8"/>
<line x1="168.6" y1="428.6" x2="171.4" y2="428.6"/>
<line x1="168.6" y1="417.4" x2="171.4" y2="417.4"/>
<line x1="168.6" y1="406.2" x2="171.4" y2="406.2"/>
<line x1="205.4" y1="484.6" x2="205.4" y2="487.4"/>
<line x1="174.6" y1="496.9" x2="235.8" y2="496.9"/>
</g>
<g font-size="6.3" text-anchor="end">
<text x="164.8" y="486.8">0</text>
<text x="164.8" y="475.6">1</text>
<text x="164.8" y="464.4">2</text>
<text x="164.8" y="453.2">3</text>
<text x="164.8" y="442.0">4</text>
<text x="164.8" y="430.8">5</text>
<text x="164.8" y="419.6">6</text>
<text x="164.8" y="408.4">7</text>
</g>
<path d="M177.8,484.6 Q181,480 184.2,484.6 Z" fill="#3a3f5c"/>
<path d="M211.9,484.6 Q215,480 218.1,484.6 Z" fill="#3a3f5c"/>
<rect x="185.2" y="438.9" width="6.8" height="45.2" fill="#3aa5cd"/>
<line x1="188.6" y1="438.9" x2="188.6" y2="434.6" stroke="#444" stroke-width="1"/>
<line x1="186.6" y1="434.6" x2="190.6" y2="434.6" stroke="#444" stroke-width="1"/>
<rect x="193.4" y="457.3" width="6.7" height="26.8" fill="#ebbb15"/>
<line x1="196.8" y1="457.3" x2="196.8" y2="454.8" stroke="#444" stroke-width="1"/>
<line x1="194.8" y1="454.8" x2="198.8" y2="454.8" stroke="#444" stroke-width="1"/>
<rect x="219.4" y="452.1" width="6.6" height="32.0" fill="#3aa5cd"/>
<line x1="222.7" y1="452.1" x2="222.7" y2="447.6" stroke="#444" stroke-width="1"/>
<line x1="220.7" y1="447.6" x2="224.7" y2="447.6" stroke="#444" stroke-width="1"/>
<rect x="227.3" y="462.6" width="6.5" height="21.5" fill="#ebbb15"/>
<line x1="230.6" y1="462.6" x2="230.6" y2="460.6" stroke="#444" stroke-width="1"/>
<line x1="228.6" y1="460.6" x2="232.6" y2="460.6" stroke="#444" stroke-width="1"/>
<line x1="184.9" y1="432.5" x2="201.1" y2="432.5" stroke="#333" stroke-width="0.9"/>
<line x1="219.4" y1="445.2" x2="235.7" y2="445.2" stroke="#333" stroke-width="0.9"/>
<text x="193.1" y="432.4" font-size="6.5" text-anchor="middle">*</text>
<text x="227.3" y="445.3" font-size="6.5" text-anchor="middle">*</text>
<rect x="204.1" y="406.7" width="3.4" height="3.4" fill="#3a3f5c"/><rect x="204.1" y="412.6" width="3.4" height="3.3" fill="#3aa5cd"/><rect x="204.1" y="418.5" width="3.4" height="3.4" fill="#ebbb15"/>
<g font-size="5.4"><text x="210.9" y="410.3">no Ab</text><text x="210.9" y="416">siControl</text><text x="210.9" y="421.8">siChe-1</text></g>
<g font-size="6.5" text-anchor="middle"><text x="186.6" y="493.2">Che-1</text><text x="227.4" y="493.2">c-Myc</text><text x="204.6" y="505.5">IP αH3K27ac</text></g>
<text class="cl" transform="translate(157,444) rotate(-90) scale(0.738,1)" font-size="8.0" text-anchor="middle">% input</text>
</g>
<!-- END ij -->
<!-- BEGIN c -->
<g id="C">
<text class="pl" x="339.5" y="15.9">C</text>
<rect x="361" y="40.2" width="107.6" height="48.4" fill="#5c5c5c"/>
<rect x="362" y="41.2" width="105.6" height="8.4" fill="url(#gC1)"/>
<rect x="425" y="41.2" width="42.6" height="8.4" fill="url(#gC1r)" opacity="0.8"/>
<rect x="362" y="53.2" width="105.6" height="9.2" fill="url(#gC2)"/>
<rect x="362" y="66" width="105.6" height="9.3" fill="url(#gC2)"/>
<rect x="362" y="78.5" width="105.6" height="9.2" fill="url(#gC2)"/>
<g filter="url(#bl)">
<rect x="365.0" y="47.20" width="8.0" height="1.60" rx="0.80" fill="#2a2a2a"/>
<rect x="374.4" y="46.10" width="8.6" height="2.60" rx="1.30" fill="#0a0a0a"/>
<rect x="395.3" y="46.75" width="7.0" height="0.90" rx="0.45" fill="#8a8a8a"/>
<rect x="404.3" y="45.00" width="8.6" height="2.40" rx="1.20" fill="#0a0a0a"/>
<rect x="426.4" y="43.70" width="6.4" height="1.80" rx="0.90" fill="#2a2a2a"/>
<rect x="436.5" y="43.65" width="7.0" height="1.10" rx="0.55" fill="#7a7a7a"/>
<rect x="446.7" y="43.65" width="7.0" height="1.10" rx="0.55" fill="#7a7a7a"/>
<rect x="364.7" y="57.50" width="8.6" height="2.60" rx="1.30" fill="#0a0a0a"/>
<rect x="374.6" y="57.50" width="8.2" height="2.20" rx="1.10" fill="#111"/>
<rect x="384.2" y="58.20" width="8.0" height="1.20" rx="0.60" fill="#a0a0a0"/>
<rect x="394.8" y="57.50" width="8.0" height="1.80" rx="0.90" fill="#4a4a4a"/>
<rect x="404.6" y="57.35" width="8.0" height="1.70" rx="0.85" fill="#4a4a4a"/>
<rect x="416.2" y="58.05" width="7.6" height="1.10" rx="0.55" fill="#a8a8a8"/>
<rect x="425.6" y="57.10" width="8.0" height="1.80" rx="0.90" fill="#4a4a4a"/>
<rect x="436.0" y="57.15" width="8.0" height="1.70" rx="0.85" fill="#4a4a4a"/>
<rect x="445.9" y="56.60" width="8.6" height="2.40" rx="1.20" fill="#1a1a1a"/>
<rect x="456.8" y="57.50" width="8.0" height="1.40" rx="0.70" fill="#808080"/>
<rect x="364.4" y="69.92" width="9.2" height="2.55" rx="1.27" fill="#0a0a0a"/>
<rect x="374.2" y="70.01" width="9.0" height="2.38" rx="1.19" fill="#0a0a0a"/>
<rect x="383.9" y="70.47" width="8.6" height="1.87" rx="0.94" fill="#1a1a1a"/>
<rect x="394.3" y="69.81" width="9.0" height="2.38" rx="1.19" fill="#0a0a0a"/>
<rect x="404.1" y="69.61" width="9.0" height="2.38" rx="1.19" fill="#0a0a0a"/>
<rect x="416.2" y="70.72" width="7.6" height="1.36" rx="0.68" fill="#555"/>
<rect x="424.8" y="68.87" width="9.6" height="3.06" rx="1.53" fill="#050505"/>
<rect x="435.5" y="69.32" width="9.0" height="2.55" rx="1.27" fill="#0a0a0a"/>
<rect x="445.4" y="69.07" width="9.6" height="3.06" rx="1.53" fill="#050505"/>
<rect x="456.5" y="70.06" width="8.6" height="1.87" rx="0.94" fill="#1a1a1a"/>
<rect x="364.5" y="82.55" width="9.0" height="2.50" rx="1.25" fill="#0a0a0a"/>
<rect x="374.2" y="82.45" width="9.0" height="2.50" rx="1.25" fill="#0a0a0a"/>
<rect x="383.7" y="82.35" width="9.0" height="2.50" rx="1.25" fill="#0a0a0a"/>
<rect x="394.3" y="82.25" width="9.0" height="2.50" rx="1.25" fill="#0a0a0a"/>
<rect x="404.1" y="82.15" width="9.0" height="2.50" rx="1.25" fill="#0a0a0a"/>
<rect x="415.5" y="81.15" width="9.0" height="2.50" rx="1.25" fill="#0a0a0a"/>
<rect x="425.1" y="81.05" width="9.0" height="2.50" rx="1.25" fill="#0a0a0a"/>
<rect x="435.5" y="80.95" width="9.0" height="2.50" rx="1.25" fill="#0a0a0a"/>
<rect x="445.7" y="80.85" width="9.0" height="2.50" rx="1.25" fill="#0a0a0a"/>
<rect x="456.3" y="80.75" width="9.0" height="2.50" rx="1.25" fill="#0a0a0a"/>
</g>
<g font-size="6.3" text-anchor="end">
<text x="359" y="48.3">Che-1</text>
<text x="359" y="60.5">H3ac</text>
<text x="359" y="73.2">H3 tot</text>
<text x="359" y="85.6">β-actin</text>
</g>
<g font-size="6.4">
<text transform="translate(369.6,38.8) rotate(-50)">Smoldering</text>
<text transform="translate(379.8,38.8) rotate(-50)">Symptomatic</text>
<text transform="translate(390.0,38.8) rotate(-50)">Mgus</text>
<text transform="translate(400.2,38.8) rotate(-50)">Symptomatic</text>
<text transform="translate(410.4,38.8) rotate(-50)">Relapse</text>
<text transform="translate(420.6,38.8) rotate(-50)">Mgus</text>
<text transform="translate(430.8,38.8) rotate(-50)">Symptomatic</text>
<text transform="translate(441.0,38.8) rotate(-50)">Relapse</text>
<text transform="translate(451.2,38.8) rotate(-50)">Symptomatic</text>
<text transform="translate(461.4,38.8) rotate(-50)">Smoldering</text>
</g>
<g font-size="6.6" text-anchor="end">
<text transform="translate(370.3,92.2) rotate(-56)">MM158</text>
<text transform="translate(381.2,92.2) rotate(-56)">MM162</text>
<text transform="translate(392.0,92.2) rotate(-56)">MM184</text>
<text transform="translate(402.9,92.2) rotate(-56)">MM189</text>
<text transform="translate(413.7,92.2) rotate(-56)">MM190</text>
<text transform="translate(424.6,92.2) rotate(-56)">MM191</text>
<text transform="translate(435.4,92.2) rotate(-56)">MM135</text>
<text transform="translate(446.2,92.2) rotate(-56)">MM140</text>
<text transform="translate(457.1,92.2) rotate(-56)">MM185</text>
<text transform="translate(467.9,92.2) rotate(-56)">MM192</text>
</g>
<text x="411" y="119.8" font-size="6.6" text-anchor="middle">MM patients</text>
</g>
<!-- END c -->
<!-- border -->
<g fill="#000"><rect x="0" y="0" width="520" height="1"/><rect x="0" y="0" width="1" height="518"/><rect x="518.5" y="0" width="1.5" height="518"/><rect x="0" y="516.8" width="520" height="1.2"/></g>
</svg>
</body></html>
